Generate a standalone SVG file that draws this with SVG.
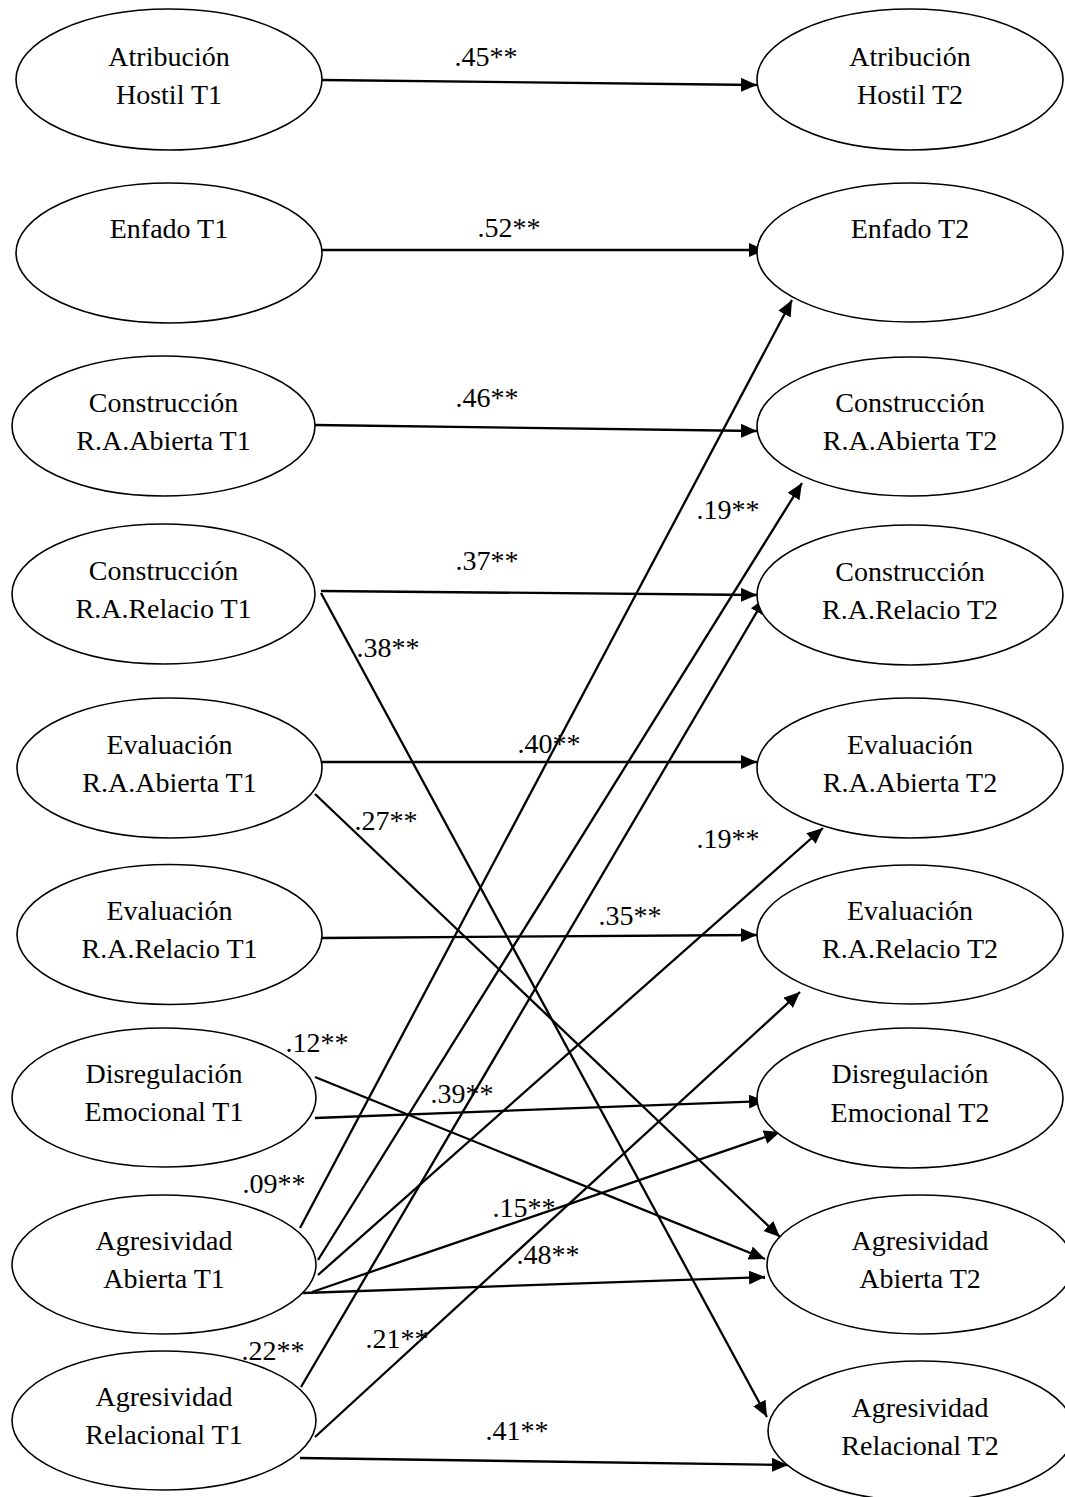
<svg xmlns="http://www.w3.org/2000/svg" width="1065" height="1497" viewBox="0 0 1065 1497">
<style>
  .node ellipse { fill: #ffffff; stroke: #000000; stroke-width: 1.6; }
  .node text { font-family: "Liberation Serif", "Times New Roman", serif; font-size: 28px; fill: #000000; text-anchor: middle; }
  .edges line { stroke: #000000; stroke-width: 2.3; fill: none; marker-end: url(#arrow); }
  .lbl { font-family: "Liberation Serif", "Times New Roman", serif; font-size: 28px; fill: #000000; text-anchor: middle; }
</style>
<defs>
  <marker id="arrow" markerUnits="userSpaceOnUse" markerWidth="18" markerHeight="14" refX="16" refY="7" orient="auto">
    <path d="M0,0 L16,7 L0,14 Z" fill="#000000"/>
  </marker>
</defs>
<rect x="0" y="0" width="1065" height="1497" fill="#ffffff"/>

<g class="edges" id="connectors">
  <line x1="322" y1="80" x2="757" y2="85"/>
  <line x1="322" y1="250" x2="765" y2="250"/>
  <line x1="315" y1="425" x2="757" y2="431"/>
  <line x1="321" y1="591" x2="757" y2="595"/>
  <line x1="321" y1="593" x2="767" y2="1417"/>
  <line x1="321" y1="762" x2="757" y2="762"/>
  <line x1="315" y1="794" x2="780" y2="1237"/>
  <line x1="321" y1="938" x2="757" y2="935"/>
  <line x1="315" y1="1118" x2="765" y2="1101"/>
  <line x1="315" y1="1077" x2="765" y2="1259"/>
  <line x1="300" y1="1228" x2="792" y2="300"/>
  <line x1="318" y1="1260" x2="802" y2="483"/>
  <line x1="318" y1="1275" x2="823" y2="828"/>
  <line x1="312" y1="1292" x2="780" y2="1132"/>
  <line x1="303" y1="1293" x2="765" y2="1277"/>
  <line x1="301" y1="1387" x2="765" y2="598"/>
  <line x1="315" y1="1437" x2="800" y2="992"/>
  <line x1="300" y1="1458" x2="788" y2="1465"/>
</g>

<g id="labels">
  <text class="lbl" x="486" y="66">.45**</text>
  <text class="lbl" x="509" y="237">.52**</text>
  <text class="lbl" x="487" y="407">.46**</text>
  <text class="lbl" x="487" y="570">.37**</text>
  <text class="lbl" x="728" y="519">.19**</text>
  <text class="lbl" x="388" y="657">.38**</text>
  <text class="lbl" x="549" y="753">.40**</text>
  <text class="lbl" x="386" y="830">.27**</text>
  <text class="lbl" x="728" y="848">.19**</text>
  <text class="lbl" x="630" y="925">.35**</text>
  <text class="lbl" x="317" y="1052">.12**</text>
  <text class="lbl" x="462" y="1103">.39**</text>
  <text class="lbl" x="274" y="1193">.09**</text>
  <text class="lbl" x="524" y="1217">.15**</text>
  <text class="lbl" x="548" y="1264">.48**</text>
  <text class="lbl" x="397" y="1348">.21**</text>
  <text class="lbl" x="273" y="1360">.22**</text>
  <text class="lbl" x="517" y="1440">.41**</text>
</g>

<g class="node" id="atribucion-t1">
  <ellipse cx="169" cy="79.5" rx="153" ry="70.5"/>
  <text x="169" y="66">Atribución</text>
  <text x="169" y="104">Hostil T1</text>
</g>
<g class="node" id="enfado-t1">
  <ellipse cx="169" cy="253" rx="153" ry="70"/>
  <text x="169" y="238">Enfado T1</text>
</g>
<g class="node" id="construccion-abierta-t1">
  <ellipse cx="163.5" cy="426" rx="151.5" ry="70"/>
  <text x="163.5" y="412">Construcción</text>
  <text x="163.5" y="450">R.A.Abierta T1</text>
</g>
<g class="node" id="construccion-relacio-t1">
  <ellipse cx="163.5" cy="594" rx="151.5" ry="70"/>
  <text x="163.5" y="580">Construcción</text>
  <text x="163.5" y="618">R.A.Relacio T1</text>
</g>
<g class="node" id="evaluacion-abierta-t1">
  <ellipse cx="169.5" cy="768" rx="152.5" ry="70"/>
  <text x="169.5" y="754">Evaluación</text>
  <text x="169.5" y="792">R.A.Abierta T1</text>
</g>
<g class="node" id="evaluacion-relacio-t1">
  <ellipse cx="169.5" cy="934.5" rx="152.5" ry="70"/>
  <text x="169.5" y="920">Evaluación</text>
  <text x="169.5" y="958">R.A.Relacio T1</text>
</g>
<g class="node" id="disregulacion-t1">
  <ellipse cx="164" cy="1097.5" rx="152" ry="69.5"/>
  <text x="164" y="1083">Disregulación</text>
  <text x="164" y="1121">Emocional T1</text>
</g>
<g class="node" id="agresividad-abierta-t1">
  <ellipse cx="164" cy="1264.5" rx="152" ry="69.5"/>
  <text x="164" y="1250">Agresividad</text>
  <text x="164" y="1288">Abierta T1</text>
</g>
<g class="node" id="agresividad-relacional-t1">
  <ellipse cx="164" cy="1420.5" rx="152" ry="69.5"/>
  <text x="164" y="1406">Agresividad</text>
  <text x="164" y="1444">Relacional T1</text>
</g>

<g class="node" id="atribucion-t2">
  <ellipse cx="910" cy="79.5" rx="153" ry="70.5"/>
  <text x="910" y="66">Atribución</text>
  <text x="910" y="104">Hostil T2</text>
</g>
<g class="node" id="enfado-t2">
  <ellipse cx="910" cy="252.5" rx="153" ry="69.5"/>
  <text x="910" y="238">Enfado T2</text>
</g>
<g class="node" id="construccion-abierta-t2">
  <ellipse cx="910" cy="426.5" rx="153" ry="69.5"/>
  <text x="910" y="412">Construcción</text>
  <text x="910" y="450">R.A.Abierta T2</text>
</g>
<g class="node" id="construccion-relacio-t2">
  <ellipse cx="910" cy="595" rx="153" ry="70"/>
  <text x="910" y="581">Construcción</text>
  <text x="910" y="619">R.A.Relacio T2</text>
</g>
<g class="node" id="evaluacion-abierta-t2">
  <ellipse cx="910" cy="768" rx="153" ry="70"/>
  <text x="910" y="754">Evaluación</text>
  <text x="910" y="792">R.A.Abierta T2</text>
</g>
<g class="node" id="evaluacion-relacio-t2">
  <ellipse cx="910" cy="934.5" rx="153" ry="69.5"/>
  <text x="910" y="920">Evaluación</text>
  <text x="910" y="958">R.A.Relacio T2</text>
</g>
<g class="node" id="disregulacion-t2">
  <ellipse cx="910" cy="1098" rx="153" ry="70"/>
  <text x="910" y="1083">Disregulación</text>
  <text x="910" y="1122">Emocional T2</text>
</g>
<g class="node" id="agresividad-abierta-t2">
  <ellipse cx="920" cy="1264.5" rx="153" ry="69.5"/>
  <text x="920" y="1250">Agresividad</text>
  <text x="920" y="1288">Abierta T2</text>
</g>
<g class="node" id="agresividad-relacional-t2">
  <ellipse cx="921" cy="1431" rx="153" ry="70"/>
  <text x="920" y="1417">Agresividad</text>
  <text x="920" y="1455">Relacional T2</text>
</g>
</svg>
